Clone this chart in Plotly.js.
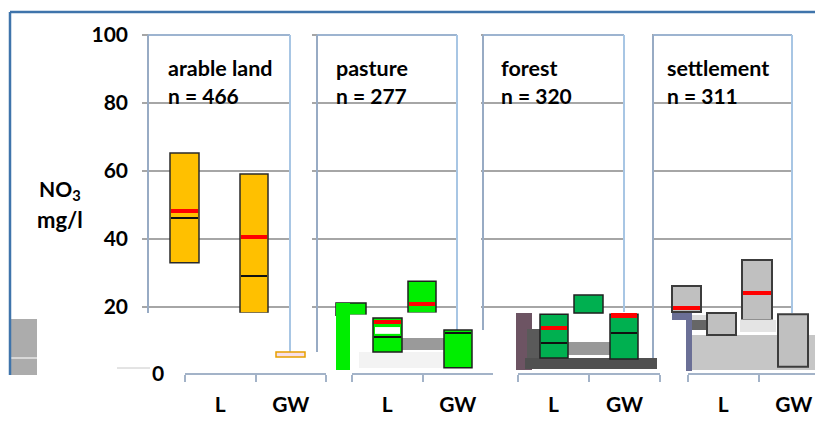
<!DOCTYPE html>
<html>
<head>
<meta charset="utf-8">
<script src="https://cdn.plot.ly/plotly-3.0.1.min.js"></script>
<style>html,body{margin:0;padding:0;background:#fff}#chart{width:815px;height:428px}</style>
</head>
<body>
<div id="chart"></div>
<script>
// ---------------- data (NO3 mg/l) ----------------
const landUse   = ['arable land', 'pasture', 'forest', 'settlement'];
const nSamples  = [466, 277, 320, 311];
const siteLabels = ['L', 'GW'];
const yTicks    = [0, 20, 40, 60, 80, 100];

// visible box rectangles (panel index, low, high, mean, median)
const boxPanel  = [0, 0, 1, 1, 1, 1, 2, 2, 2, 3, 3, 3, 3];
const boxLow    = [33.0, 18.2, 17.6, 6.8, 18.2, 2.1, 5.0, 18.2, 4.7, 18.5, 11.8, 16.2, 2.4];
const boxHigh   = [65.3, 59.1, 21.2, 16.8, 27.6, 13.2, 17.9, 23.5, 17.9, 26.2, 18.2, 33.8, 17.9];
const boxMean   = [48.3, 40.7, null, 15.6, 20.9, null, 13.8, null, 17.5, 19.7, null, 24.1, null];
const boxMedian = [46.2, 29.1, null, 11.2, null, 12.4, 9.4, null, 12.4, null, null, null, null];

// broken fragments behind the boxes (low, high)
const fragLow   = [0.0, 4.6, 2.1, 7.4, 1.5, 5.0, 1.8, 5.9, 1.5, 1.2, 16.2, 16.2, 13.2, 12.6];
const fragHigh  = [16.5, 5.3, 6.8, 10.9, 18.2, 13.5, 5.0, 9.7, 11.8, 18.5, 18.5, 17.6, 16.2, 16.2];
// fragments in front of the boxes (low, high)
const topLow    = [15.0, 5.3, 1.5, 12.1, 16.4, 16.8, 15.2];
const topHigh   = [18.3, 6.8, 21.2, 14.1, 17.75, 18.35, 16.35];

// ---------------- geometry & style (pixels) ----------------
const W = 815, H = 428;
const boxX = [[170,199],[240,268],[336,366],[373,402],[408,436],[444,472],[540,568],[574,603],[610,638],[672,701],[707,736],[742,772],[778,808]];
const panelFill = ['#ffc000', '#00ee00', '#00b050', '#c0c0c0'];
const panelLine = ['#2a2a2a', '#1f1f1f', '#1f1f1f', '#3c3c3c'];
const fragX = [[10,37],[11,37],[359,470],[402,444],[516,532],[527,540],[525,657],[568,610],[690,815],[686,692],[672,690],[692,707],[692,707],[740,776]];
const fragColor = ['#acacac','#d8d8d8','#f3f3f3','#9a9a9a','#6d5463','#5a5a5a','#505050','#999999','#c6c6c6','#6b6f96','#6b6f96','#dcdcdc','#666666','#e4e4e4'];
const topX = [[238,270],[276,305],[336,350],[375,400],[350,367.5],[406.5,437.5],[740.5,773.5]];
const topColor = ['#ffffff','#f8dfe8','#00ee00','#ffffff','#ffffff','#ffffff','#e4e4e4'];
const NONE = 'rgba(0,0,0,0)';
const topLineC = [NONE,'#e6a000',NONE,NONE,NONE,NONE,NONE];
const topLineW = [0, 1.5, 0, 0, 0, 0, 0];

const panelX = [[148,290],[317,457],[483,624],[653,792]];
const borderEnd = [[18.2,6.8],[6.8,13.2],[13.2,18.5],[5.0,18.2]];
const stub = [6,5,2,1];
const titleX = [166, 334, 499, 665];
const axisDom = [[185,326],[352,493],[518,660],[688,815]];
const axisYpx = 374;
const Y0 = 375, PXU = 3.4;           // value 0 at pixel 375, 3.4 px per mg/l
const yRange = [-(H - Y0) / PXU, Y0 / PXU];
const FONT = 'Lato, "Noto Sans", sans-serif';
const pxX = p => p / W, pxY = p => 1 - p / H;
const pxV = p => (Y0 - p) / PXU;
const boldFont = s => ({family: FONT, size: s, color: '#000', weight: 'bold'});

const traces = [];
function rectTrace(xs, lo, hi, fill, lineC, lineW) {
  return {
    type: 'bar', xaxis: 'x', yaxis: 'y',
    x: xs.map(s => (s[0] + s[1]) / 2),
    width: xs.map(s => s[1] - s[0]),
    base: lo,
    y: hi.map((h, i) => h - lo[i]),
    marker: {color: fill, line: {color: lineC, width: lineW}},
    hoverinfo: 'skip'
  };
}
// background fragments
traces.push(rectTrace(fragX, fragLow, fragHigh, fragColor, NONE, 0));
// main boxes
traces.push(rectTrace(boxX, boxLow, boxHigh,
  boxPanel.map(p => panelFill[p]), boxPanel.map(p => panelLine[p]),
  boxPanel.map(p => p === 3 ? 2 : 1.5)));
// front fragments
traces.push(rectTrace(topX, topLow, topHigh, topColor, topLineC, topLineW));
// median lines (black) and means (red)
function lineTrace(vals, th, col) {
  const xs = [], lo = [], hi = [];
  vals.forEach((v, i) => { if (v !== null) { xs.push([boxX[i][0] + 0.8, boxX[i][1] - 0.8]); lo.push(v - th / 2); hi.push(v + th / 2); } });
  return rectTrace(xs, lo, hi, col, NONE, 0);
}
traces.push(lineTrace(boxMedian, 0.5, '#111111'));
traces.push(lineTrace(boxMean, 1.25, '#ff0000'));

const layout = {
  width: W, height: H, margin: {l: 0, r: 0, t: 0, b: 0},
  paper_bgcolor: '#ffffff', plot_bgcolor: 'rgba(0,0,0,0)',
  showlegend: false, barmode: 'overlay', bargap: 0,
  font: {family: FONT, size: 21, color: '#000'},
  xaxis: {range: [0, W], domain: [0, 1], visible: false, fixedrange: true},
  yaxis: {
    range: yRange, domain: [0, 1], anchor: 'free', position: 142 / W,
    tickvals: yTicks.slice(1), ticktext: yTicks.slice(1).map(String),
    showgrid: false, zeroline: false, showline: false, ticks: '',
    ticklabelstandoff: 14, tickfont: boldFont(21),
    fixedrange: true
  },
  shapes: [], annotations: []
};
landUse.forEach((name, i) => {
  const ax = 'xaxis' + (i + 2);
  const d = axisDom[i];
  const span = (d[1] - d[0]) / 70.5;
  layout[ax] = {
    type: 'category', categoryarray: siteLabels, categoryorder: 'array',
    domain: [pxX(d[0]), pxX(d[1])], range: [-0.5, -0.5 + Math.min(span, 2)],
    anchor: 'free', position: pxY(axisYpx),
    showline: true, linecolor: '#a3b3c8', linewidth: 2, showgrid: false, zeroline: false,
    ticks: 'outside', tickson: 'boundaries', ticklen: 7, tickwidth: 2, tickcolor: '#a3b3c8',
    ticklabelstandoff: 12, tickfont: boldFont(21),
    fixedrange: true
  };
  // empty trace carrying the category axis of this panel
  traces.push({type: 'scatter', mode: 'markers', x: siteLabels, y: [null, null],
    xaxis: 'x' + (i + 2), yaxis: 'y', hoverinfo: 'skip'});

  // panel frames and gridlines
  const [x0, x1] = panelX[i];
  yTicks.slice(1).forEach(v => {
    layout.shapes.push({type: 'line', layer: 'below', xref: 'paper', yref: 'y',
      x0: pxX(x0 - stub[i]), x1: pxX(v === 100 ? x0 : (i === 2 && v === 20 ? 653 : x1)), y0: v, y1: v,
      line: {color: '#a6a6a6', width: 2}});
  });
  layout.shapes.push({type: 'line', layer: 'below', xref: 'paper', yref: 'y', x0: pxX(x0), x1: pxX(x1), y0: 100, y1: 100, line: {color: '#9db4d0', width: 2}});
  layout.shapes.push({type: 'line', layer: 'below', xref: 'paper', yref: 'y', x0: pxX(x0), x1: pxX(x0), y0: 100, y1: borderEnd[i][0], line: {color: '#98abc4', width: 2}});
  layout.shapes.push({type: 'line', layer: 'below', xref: 'paper', yref: 'y', x0: pxX(x1), x1: pxX(x1), y0: 100, y1: borderEnd[i][1], line: {color: '#a8c6e4', width: 2}});

  layout.annotations.push({xref: 'paper', yref: 'y', x: pxX(titleX[i]), y: pxV(68), xanchor: 'left', yanchor: 'middle',
    text: name, showarrow: false, font: boldFont(21.5)});
  layout.annotations.push({xref: 'paper', yref: 'y', x: pxX(titleX[i]), y: pxV(95), xanchor: 'left', yanchor: 'middle',
    text: 'n = ' + nSamples[i], showarrow: false, font: boldFont(21)});
});
// outer frame
layout.shapes.push({type: 'line', layer: 'below', xref: 'paper', yref: 'paper', x0: pxX(10), x1: 1, y0: pxY(12), y1: pxY(12), line: {color: '#3f74ab', width: 2.5}});
layout.shapes.push({type: 'line', layer: 'above', xref: 'paper', yref: 'paper', x0: pxX(10), x1: pxX(10), y0: pxY(12), y1: pxY(375), line: {color: '#3f74ab', width: 2.5}});
layout.shapes.push({type: 'line', layer: 'above', xref: 'paper', yref: 'paper', x0: pxX(117), x1: pxX(150), y0: pxY(368), y1: pxY(368), line: {color: '#c8c8c8', width: 1}});
// zero tick label (displaced)
layout.annotations.push({xref: 'paper', yref: 'y', x: pxX(158), y: yTicks[0] + 0.6, xanchor: 'center', yanchor: 'middle',
  text: String(yTicks[0]), showarrow: false, font: boldFont(21)});
// y-axis title
layout.annotations.push({xref: 'paper', yref: 'paper', x: pxX(60), y: pxY(190), xanchor: 'center', yanchor: 'middle',
  text: 'NO<sub>3</sub>', showarrow: false, font: boldFont(21)});
layout.annotations.push({xref: 'paper', yref: 'paper', x: pxX(60), y: pxY(220), xanchor: 'center', yanchor: 'middle',
  text: 'mg/l', showarrow: false, font: boldFont(22)});

Plotly.newPlot('chart', traces, layout, {staticPlot: true, displayModeBar: false});
</script>
</body>
</html>
